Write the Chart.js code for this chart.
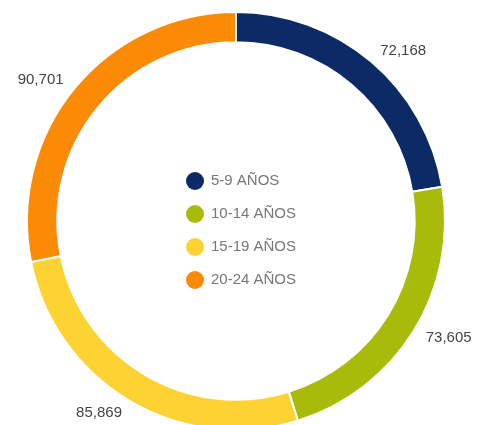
<!DOCTYPE html>
<html>
<head>
<meta charset="utf-8">
<script src="https://cdn.jsdelivr.net/npm/chart.js@4"></script>
<style>
  html, body { margin: 0; padding: 0; background: #fff; overflow: hidden; }
  #wrap { position: absolute; left: 0; top: 0; width: 477px; height: 432px; }
</style>
</head>
<body>
<div id="wrap"><canvas id="chart"></canvas></div>
<script>
// data
const labels = ['5-9 AÑOS', '10-14 AÑOS', '15-19 AÑOS', '20-24 AÑOS'];
const values = [72168, 73605, 85869, 90701];
const colors = ['#0b2a66', '#a9bb0a', '#fdd233', '#fb8b06'];

const fontFamily = "'Liberation Sans', Arial, sans-serif";
const fmt = v => v.toLocaleString('en-US');

// value labels outside each slice, anchored by their inner edge
const outerLabels = {
  id: 'outerLabels',
  afterDatasetsDraw(chart) {
    const { ctx } = chart;
    const meta = chart.getDatasetMeta(0);
    ctx.save();
    ctx.font = `15px ${fontFamily}`;
    ctx.fillStyle = '#444';
    ctx.textBaseline = 'middle';
    meta.data.forEach((arc, i) => {
      const mid = (arc.startAngle + arc.endAngle) / 2;
      const r = arc.outerRadius + 14;
      const x = arc.x + Math.cos(mid) * r;
      const y = arc.y + Math.sin(mid) * r;
      ctx.textAlign = Math.cos(mid) >= 0 ? 'left' : 'right';
      ctx.fillText(fmt(values[i]), x, y);
    });
    ctx.restore();
  }
};

// legend drawn in the hole
const centerLegend = {
  id: 'centerLegend',
  afterDraw(chart) {
    const { ctx } = chart;
    const arc = chart.getDatasetMeta(0).data[0];
    const rowH = 33;
    const top = arc.y - 40;
    const dotX = arc.x - 41;
    ctx.save();
    ctx.font = `15px ${fontFamily}`;
    ctx.textBaseline = 'middle';
    ctx.textAlign = 'left';
    labels.forEach((lbl, i) => {
      const y = top + i * rowH;
      ctx.beginPath();
      ctx.arc(dotX, y, 9, 0, Math.PI * 2);
      ctx.fillStyle = colors[i];
      ctx.fill();
      ctx.fillStyle = '#777';
      ctx.fillText(lbl, dotX + 16, y);
    });
    ctx.restore();
  }
};

new Chart(document.getElementById('chart'), {
  type: 'doughnut',
  data: {
    labels: labels,
    datasets: [{
      data: values,
      backgroundColor: colors,
      borderColor: '#fff',
      borderWidth: 2
    }]
  },
  options: {
    responsive: true,
    maintainAspectRatio: false,
    animation: false,
    cutout: '85.5%',
    layout: { padding: { top: 11, left: 26, right: 31, bottom: 1 } },
    plugins: {
      legend: { display: false },
      tooltip: { enabled: false }
    }
  },
  plugins: [outerLabels, centerLegend]
});
</script>
</body>
</html>
